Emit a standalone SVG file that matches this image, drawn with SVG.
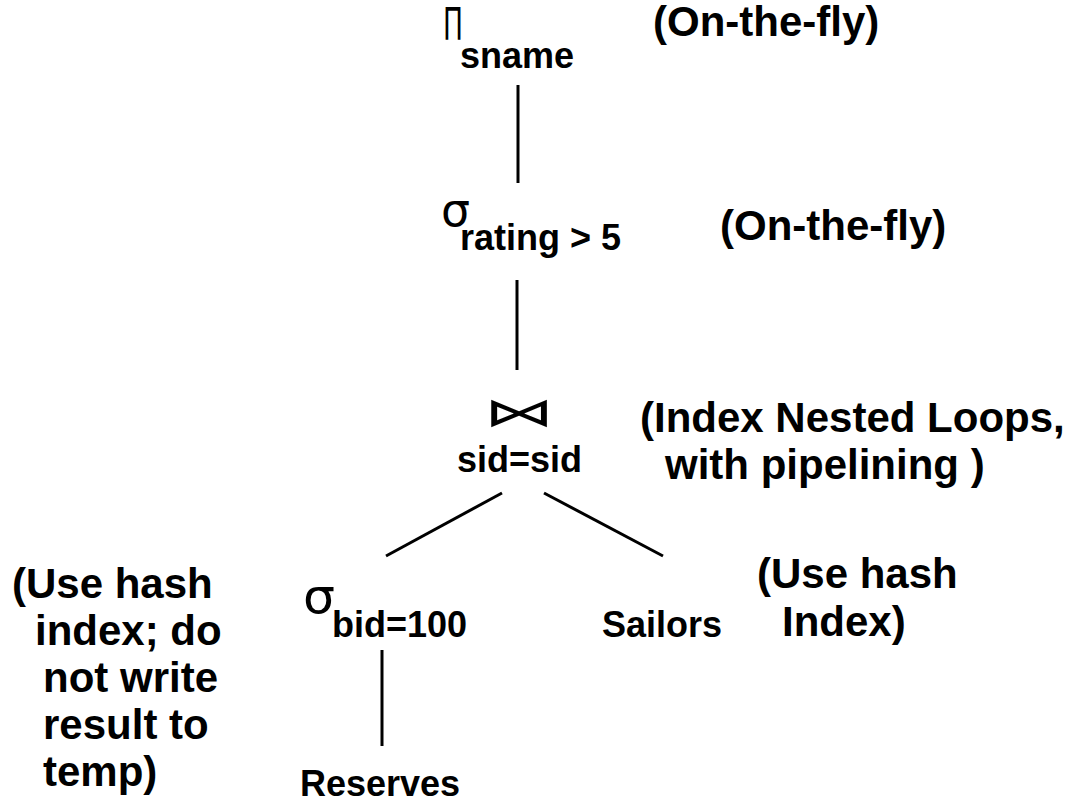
<svg xmlns="http://www.w3.org/2000/svg" width="1073" height="805" viewBox="0 0 1073 805">
<style>
.lbl{font-family:"Liberation Sans",Arial,sans-serif;font-weight:bold;font-size:36px;fill:#000}
.note{font-family:"Liberation Sans",Arial,sans-serif;font-weight:bold;font-size:42px;fill:#000}
.sym{font-family:"DejaVu Sans","Liberation Sans",sans-serif;font-weight:normal;fill:#000}
.edge{stroke:#000;stroke-width:3;fill:none}
</style>
<rect width="1073" height="805" fill="#fff"/>
<g id="connectors">
<line class="edge" x1="518" y1="85" x2="518" y2="183"/>
<line class="edge" x1="517" y1="280" x2="517" y2="370"/>
<line class="edge" x1="502" y1="493" x2="386" y2="556"/>
<line class="edge" x1="544" y1="493" x2="663" y2="556"/>
<line class="edge" x1="382" y1="650" x2="382" y2="746"/>
</g>
<g id="node-project">
<text class="sym" x="443" y="40" font-size="44" textLength="20" lengthAdjust="spacingAndGlyphs">Π</text>
<text class="lbl" x="460" y="68">sname</text>
</g>
<g id="note-project"><text class="note" x="653" y="36">(On-the-fly)</text></g>
<g id="node-select-rating">
<text class="sym" x="441" y="226" font-size="46" textLength="29" lengthAdjust="spacingAndGlyphs">σ</text>
<text class="lbl" x="460" y="250">rating &gt; 5</text>
</g>
<g id="note-select-rating"><text class="note" x="720" y="240">(On-the-fly)</text></g>
<g id="node-join">
<text class="sym" x="484" y="426" font-size="40" textLength="71" lengthAdjust="spacingAndGlyphs">⋈</text>
<text class="lbl" x="457" y="472">sid=sid</text>
</g>
<g id="note-join">
<text class="note" x="640" y="432">(Index Nested Loops,</text>
<text class="note" x="665" y="479">with pipelining )</text>
</g>
<g id="node-select-bid">
<text class="sym" x="303" y="613" font-size="48" textLength="32" lengthAdjust="spacingAndGlyphs">σ</text>
<text class="lbl" x="332" y="637">bid=100</text>
</g>
<g id="note-select-bid">
<text class="note" x="12" y="598">(Use hash</text>
<text class="note" x="35" y="645">index; do</text>
<text class="note" x="43" y="692">not write</text>
<text class="note" x="43" y="739">result to</text>
<text class="note" x="43" y="786">temp)</text>
</g>
<g id="node-sailors"><text class="lbl" x="602" y="637">Sailors</text></g>
<g id="note-sailors">
<text class="note" x="757" y="588">(Use hash</text>
<text class="note" x="782" y="636">Index)</text>
</g>
<g id="node-reserves"><text class="lbl" x="300" y="796">Reserves</text></g>
</svg>
